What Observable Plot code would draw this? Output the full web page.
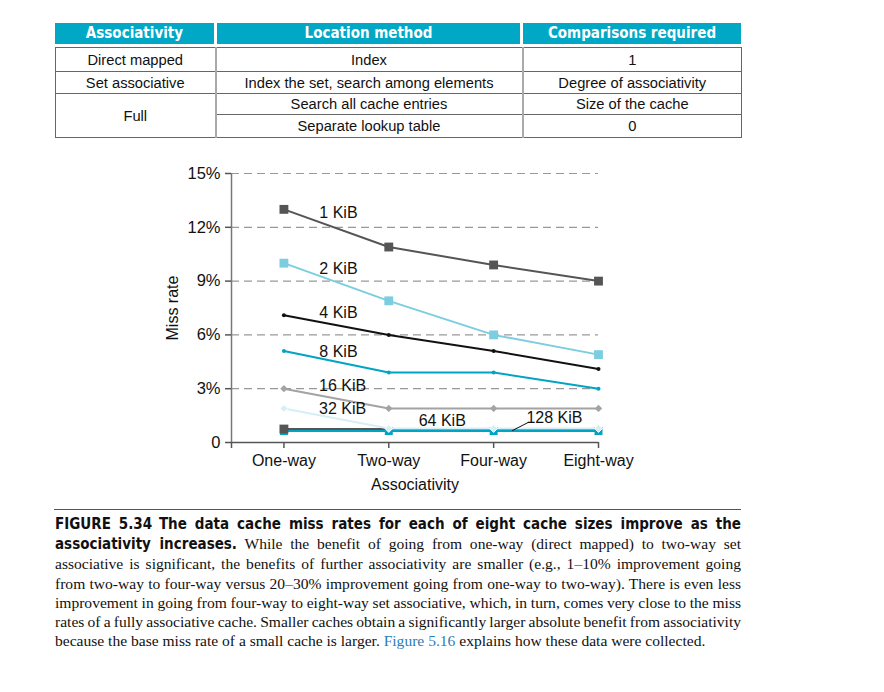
<!DOCTYPE html>
<html>
<head>
<meta charset="utf-8">
<script src="https://cdn.jsdelivr.net/npm/d3@7"></script>
<script src="https://cdn.jsdelivr.net/npm/@observablehq/plot@0.6"></script>
<style>
  html, body { margin: 0; padding: 0; background: #fff; }
  #page { position: relative; width: 884px; height: 692px; overflow: hidden; font-family: "Liberation Sans", Arial, sans-serif; color: #111; }
  .hdr { position: absolute; top: 23px; height: 21px; background: #00a8c6; color: #fff; font-family: "Liberation Sans Narrow", "DejaVu Sans Condensed", sans-serif; font-stretch: condensed; font-weight: bold; font-size: 15px; line-height: 21px; text-align: center; }
  #tbl { position: absolute; left: 55px; top: 47px; width: 686px; border-collapse: collapse; table-layout: fixed; font-size: 14.7px; }
  #tbl td { border: 1px solid #666; text-align: center; padding: 0; vertical-align: middle; }
  #tbl td.c1 { border-right: 2px solid #aaa; }
  #tbl td.c2 { border-right: 2px solid #aaa; }
  #chart { position: absolute; left: 0; top: 150px; }
  #rule { position: absolute; left: 54px; top: 509px; width: 687px; height: 0; border-top: 1.5px solid #555; }
  #caption { position: absolute; left: 55px; top: 514px; width: 686px; font-family: "Liberation Serif", "Times New Roman", serif; font-size: 15.55px; line-height: 19.2px; color: #111; }
  #caption .ln { white-space: nowrap; text-align: justify; text-align-last: justify; }
  #caption .ln.tight { word-spacing: -1.2px; }
  #caption .ln.last { text-align-last: left; }
  #caption b { font-family: "Liberation Sans Narrow", "DejaVu Sans Condensed", sans-serif; font-stretch: condensed; font-weight: bold; font-size: 15px; }
  #caption .ref { color: #2b7bb9; }
</style>
</head>
<body>
<div id="page">
  <div id="header"></div>
  <table id="tbl"><colgroup><col style="width:160px"><col style="width:307px"><col style="width:219px"></colgroup><tbody></tbody></table>
  <div id="chart"></div>
  <div id="rule"></div>
  <div id="caption"></div>
</div>
<script>
// ---------- Data ----------
const tableHeader = ["Associativity", "Location method", "Comparisons required"];
const tableAssoc = ["Direct mapped", "Set associative", "Full"];
const tableMethod = ["Index", "Index the set, search among elements", "Search all cache entries", "Separate lookup table"];
const tableComparisons = ["1", "Degree of associativity", "Size of the cache", "0"];

const categories = ["One-way", "Two-way", "Four-way", "Eight-way"];
const cacheSizes = ["1 KiB", "2 KiB", "4 KiB", "8 KiB", "16 KiB", "32 KiB", "64 KiB", "128 KiB"];
const miss1K   = [13.0, 10.9, 9.9, 9.0];
const miss2K   = [10.0, 7.9, 6.0, 4.9];
const miss4K   = [7.1, 6.0, 5.1, 4.1];
const miss8K   = [5.1, 3.9, 3.9, 3.0];
const miss16K  = [3.0, 1.9, 1.9, 1.9];
const miss32K  = [1.9, 0.78, 0.78, 0.78];
const miss64K  = [0.75, 0.75, 0.75, 0.75];
const miss128K = [0.64, 0.64, 0.64, 0.64];
const yTicks = [0, 3, 6, 9, 12, 15];

const captionBold1 = "FIGURE 5.34\u2002The data cache miss rates for each of eight cache sizes improve as the";
const captionBold2 = "associativity increases.";
const captionLines = [
  " While the benefit of going from one-way (direct mapped) to two-way set",
  "associative is significant, the benefits of further associativity are smaller (e.g., 1\u201310% improvement going",
  "from two-way to four-way versus 20\u201330% improvement going from one-way to two-way). There is even less",
  "improvement in going from four-way to eight-way set associative, which, in turn, comes very close to the miss",
  "rates of a fully associative cache. Smaller caches obtain a significantly larger absolute benefit from associativity",
  "because the base miss rate of a small cache is larger. "
];
const captionRef = "Figure 5.16";
const captionEnd = " explains how these data were collected.";

// ---------- Table ----------
const hdrPos = [[55, 159], [217, 303], [523, 218]];
const header = document.getElementById("header");
tableHeader.forEach((t, i) => {
  const d = document.createElement("div");
  d.className = "hdr";
  d.style.left = hdrPos[i][0] + "px";
  d.style.width = hdrPos[i][1] + "px";
  d.textContent = t;
  header.appendChild(d);
});
const tbody = document.querySelector("#tbl tbody");
const rowH = [24, 22, 21, 23];
for (let r = 0; r < 4; r++) {
  const tr = document.createElement("tr");
  tr.style.height = rowH[r] + "px";
  if (r < 3) {
    const td = document.createElement("td");
    td.className = "c1";
    td.textContent = tableAssoc[r];
    if (r === 2) td.rowSpan = 2;
    tr.appendChild(td);
  }
  const td2 = document.createElement("td");
  td2.className = "c2";
  td2.textContent = tableMethod[r];
  tr.appendChild(td2);
  const td3 = document.createElement("td");
  td3.textContent = tableComparisons[r];
  tr.appendChild(td3);
  tbody.appendChild(tr);
}

// ---------- Chart ----------
const seriesValues = [miss1K, miss2K, miss4K, miss8K, miss16K, miss32K, miss64K, miss128K];
const rows = cacheSizes.flatMap((s, i) => seriesValues[i].map((v, j) => ({size: s, assoc: categories[j], rate: v})));
const xi = d => categories.indexOf(d.assoc);

const styles = {
  "1 KiB":   {stroke: "#555555", fill: "#555555", symbol: "square", r: 5},
  "2 KiB":   {stroke: "#7ccde0", fill: "#7ccde0", symbol: "square", r: 5},
  "4 KiB":   {stroke: "#111111", fill: "#111111", symbol: "circle", r: 2},
  "8 KiB":   {stroke: "#00a4c4", fill: "#00a4c4", symbol: "circle", r: 2},
  "16 KiB":  {stroke: "#a3a3a3", fill: "#a3a3a3", symbol: "diamond2", r: 3.3},
  "32 KiB":  {stroke: "#d6eef5", fill: "#d6eef5", symbol: "diamond2", r: 3.5, dotStroke: "#fff"},
  "64 KiB":  {stroke: "#555555", fill: "#555555", symbol: "square", r: 5, only: [0]},
  "128 KiB": {stroke: "#00a4c4", fill: "#00a4c4", symbol: "square", r: 4.5}
};
const drawOrder = ["1 KiB", "2 KiB", "4 KiB", "8 KiB", "16 KiB", "128 KiB", "64 KiB", "32 KiB"];

const seriesMarks = drawOrder.flatMap(s => {
  const st = styles[s];
  const d = rows.filter(r => r.size === s);
  const dd = st.only ? d.filter(r => st.only.includes(xi(r))) : d;
  return [
    Plot.line(d, {x: xi, y: "rate", stroke: st.stroke, strokeWidth: 2}),
    Plot.dot(dd, {x: xi, y: "rate", symbol: st.symbol, r: st.r, fill: st.fill, stroke: st.dotStroke || "none", strokeWidth: 1})
  ];
});

// label anchors (data coordinates)
const labelAnchors = [
  {size: "1 KiB", x: 0.52, y: 12.83},
  {size: "2 KiB", x: 0.52, y: 9.70},
  {size: "4 KiB", x: 0.52, y: 7.25},
  {size: "8 KiB", x: 0.52, y: 5.08},
  {size: "16 KiB", x: 0.56, y: 3.18},
  {size: "32 KiB", x: 0.56, y: 1.90},
  {size: "64 KiB", x: 1.51, y: 1.23},
  {size: "128 KiB", x: 2.58, y: 1.39}
];
const leader = [{x: 2.18, y: 0.67}, {x: 2.33, y: 1.12}];

const chart = Plot.plot({
  width: 884,
  height: 350,
  marginLeft: 231,
  marginRight: 286,
  marginTop: 23,
  marginBottom: 58,
  style: {fontFamily: "Liberation Sans, Arial, sans-serif", fontSize: "16px", color: "#111", background: "white"},
  x: {domain: [-0.5, 3]},
  y: {domain: [0, 15]},
  marks: [
    Plot.ruleY(yTicks.filter(t => t > 0), {stroke: "#999", strokeWidth: 1.2, strokeDasharray: "8,5", strokeOpacity: 1}),
    Plot.ruleX([-0.5], {stroke: "#777", strokeWidth: 1.5}),
    Plot.ruleY([0], {stroke: "#555", strokeWidth: 1.5}),
    Plot.axisY({ticks: yTicks, tickFormat: d => d === 0 ? "0" : d + "%", tickSize: 6, tickPadding: 5, stroke: "#555", strokeWidth: 1.5, fontSize: 16.5, label: null}),
    Plot.axisX({ticks: [-0.5, 0, 1, 2, 3], tickFormat: d => d < 0 ? "" : categories[d], tickSize: 6, tickPadding: 6, stroke: "#555", strokeWidth: 1.5, fontSize: 16, label: null}),
    Plot.text(["Miss rate"], {frameAnchor: "left", dx: -59, rotate: -90, textAnchor: "middle", lineAnchor: "middle", fontSize: 16}),
    Plot.text(["Associativity"], {frameAnchor: "bottom", dy: 42, textAnchor: "middle", lineAnchor: "middle", fontSize: 16}),
    ...seriesMarks,
    Plot.line(leader, {x: "x", y: "y", stroke: "#111", strokeWidth: 1}),
    Plot.text(labelAnchors, {x: "x", y: "y", text: "size", textAnchor: "middle", lineAnchor: "middle", fontSize: 16, fill: "#111"})
  ]
});
document.getElementById("chart").appendChild(chart);

// ---------- Caption ----------
const cap = document.getElementById("caption");
function addLine(html, cls) {
  const d = document.createElement("div");
  d.className = "ln" + (cls ? " " + cls : "");
  d.innerHTML = html;
  cap.appendChild(d);
}
addLine("<b>" + captionBold1 + "</b>");
addLine("<b>" + captionBold2 + "</b>" + captionLines[0]);
for (let i = 1; i < captionLines.length - 1; i++) addLine(captionLines[i], (i === 3 || i === 4) ? "tight" : "");
addLine(captionLines[captionLines.length - 1] + '<span class="ref">' + captionRef + "</span>" + captionEnd, "last");
</script>
</body>
</html>
